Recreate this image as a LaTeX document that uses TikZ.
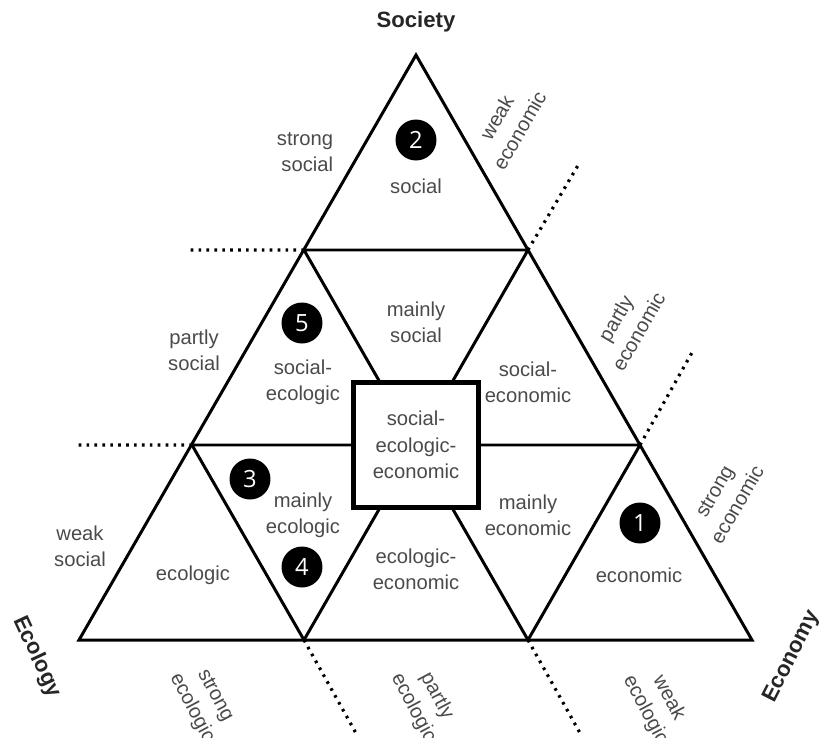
\documentclass[tikz,border=0pt]{standalone}
\usepackage{fontspec}
\setmainfont{Liberation Sans}
\newfontfamily\numfont{Open Sans}
\usepackage{xcolor}
\usetikzlibrary{positioning}
\definecolor{txtgray}{HTML}{4A4A4A}
\newcommand*{\xMax}{823}
\newcommand*{\yMax}{738}

\begin{document}
\begin{tikzpicture}[x=0.02cm,y=-0.02cm,
  edge/.style={draw=black,line width=1.7pt,line join=miter},
  dots/.style={line width=1.8pt,dash pattern=on 1.5pt off 3pt},
  lbl/.style={text=txtgray,font=\fontsize{11.5}{15}\selectfont,align=center,inner sep=0pt},
  pole/.style={text=black!85,font=\fontsize{12.6}{15}\selectfont\bfseries,inner sep=0pt},
  num/.style={circle,fill=black,text=white,minimum size=0.82cm,inner sep=0pt,font=\numfont\fontsize{13.5}{14}\selectfont},
  core/.style={rectangle,draw=black,line width=2.3pt,fill=white,minimum width=2.5cm,minimum height=2.5cm}]
	\useasboundingbox (0,0) rectangle (\xMax,\yMax);
	% grid points of the big triangle
	\coordinate (top) at (416,55);
	\coordinate (l1) at (304,250); \coordinate (r1) at (528,250);
	\coordinate (l2) at (192,445); \coordinate (m2) at (416,445); \coordinate (r2) at (640,445);
	\coordinate (bl) at (79,640); \coordinate (b1) at (304,640); \coordinate (b2) at (528,640); \coordinate (br) at (752,640);
	% ends of the dotted marks
	\coordinate (e1) at (190,250); \coordinate (e2) at (78,445);
	\coordinate (e3) at (580,162); \coordinate (e4) at (694,349);
	\coordinate (e5) at (357,735); \coordinate (e6) at (580,733);
	\draw[edge] (top) -- (br) -- (bl) -- cycle;
	\draw[edge] (l1) -- (r1) (l2) -- (r2) (l1) -- (b2) (r1) -- (b1) (l2) -- (b1) (r2) -- (b2);
	\draw[dots] (l1) -- (e1) (l2) -- (e2) (r1) -- (e3) (r2) -- (e4) (b1) -- (e5) (b2) -- (e6);
	\node[core] (sec) at (m2) {};
	\node[lbl] (secT) at (m2) {social-\\ecologic-\\economic};
	% corners
	\node[pole] (soc) at (416,22) {Society};
	\node[pole,rotate=-65] (ecl) at (37,657) {Ecology};
	\node[pole,rotate=63] (ecn) at (792,657) {Economy};
	% fields
	\node[lbl] (fSoc) at (416,186) {social};
	\node[lbl] (fMSoc) at (416,322) {mainly\\social};
	\node[lbl] (fSocEcl) at (303,382) {social-\\ecologic};
	\node[lbl] (fSocEcn) at (528,382) {social-\\economic};
	\node[lbl] (fMEcl) at (303,515) {mainly\\ecologic};
	\node[lbl] (fMEcn) at (528,515) {mainly\\economic};
	\node[lbl] (fEcl) at (193,575) {ecologic};
	\node[lbl] (fEclEcn) at (416,569) {ecologic-\\economic};
	\node[lbl] (fEcn) at (639,575) {economic};
	% side marks
	\node[lbl,align=right] (sStr) at (305,152) {strong\\social};
	\node[lbl] (sPart) at (194,350) {partly\\social};
	\node[lbl] (sWeak) at (80,546) {weak\\social};
	\node[lbl,rotate=60] (nWeak) at (508,124) {weak\\economic};
	\node[lbl,rotate=60] (nPart) at (627,325) {partly\\economic};
	\node[lbl,rotate=60] (nStr) at (726,498) {strong\\economic};
	\node[lbl,rotate=-62] (gStr) at (203,702) {strong\\ecologic};
	\node[lbl,rotate=-62] (gPart) at (425,702) {partly\\ecologic};
	\node[lbl,rotate=-62] (gWeak) at (657,704) {weak\\ecologic};
	% numbered markers
	\foreach \n/\x/\y in {1/640/523,2/416/140,3/250/479,4/302/567,5/302/323}
	    \node[num] (c\n) at (\x,\y) {\n};
\end{tikzpicture}
\end{document}
